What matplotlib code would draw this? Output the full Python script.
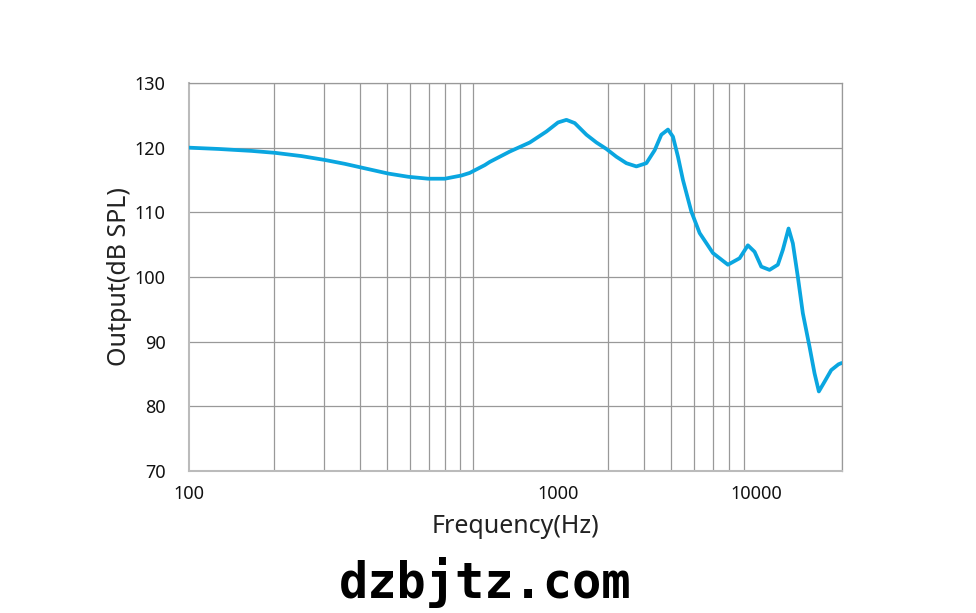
import matplotlib
matplotlib.use("Agg")
import matplotlib.pyplot as plt
from matplotlib.ticker import FixedLocator, NullFormatter

freq = [100, 127, 166, 201, 249, 301, 354, 417, 503, 592, 696, 797, 913,
        976, 1016, 1102, 1148, 1350, 1588, 1818, 1997, 2138, 2287, 2515, 2727,
        2957, 3206, 3477, 3771, 4089, 4374, 4617, 4873, 5074, 5285, 5503, 5891,
        6300, 7020, 7925, 8713, 9320, 9840, 10390, 11110, 11885, 12377, 12964,
        13423, 13979, 14555, 15370, 16006, 16576, 17356, 18323, 19440, 19950]
spl = [120.0, 119.8, 119.5, 119.2, 118.7, 118.1, 117.5, 116.8, 116.0, 115.5,
       115.2, 115.2, 115.7, 116.1, 116.5, 117.3, 117.8, 119.4, 120.8, 122.5,
       123.9, 124.3, 123.8, 122.0, 120.8, 119.8, 118.6, 117.6, 117.1, 117.6,
       119.6, 122.0, 122.8, 121.7, 118.6, 115.0, 110.1, 106.8, 103.7, 101.9,
       102.9, 104.9, 103.9, 101.6, 101.1, 101.9, 104.2, 107.5, 105.2, 100.0,
       94.4, 89.2, 85.1, 82.3, 83.8, 85.6, 86.5, 86.7]

x_tick_pos = [100, 2000, 10000]
x_tick_labels = ["100", "1000", "10000"]
y_ticks = [70, 80, 90, 100, 110, 120, 130]
grid_freqs = [100, 200, 300, 400, 500, 600, 700, 800, 900,
              1000, 2000, 3000, 4000, 5000, 6000, 7000, 8000, 9000,
              10000, 20000]

fig = plt.figure(figsize=(9.76, 6.13), dpi=100)
ax = fig.add_axes([189/976, 1-471/613, (842-189)/976, (471-83)/613])
ax.set_xscale("log")
ax.set_xlim(100, 20000)
ax.set_ylim(70, 130)

ax.plot(freq, spl, color="#0aa6e0", lw=2.7, solid_capstyle="round",
        solid_joinstyle="round", zorder=3)

ax.xaxis.set_minor_locator(FixedLocator(grid_freqs))
ax.xaxis.set_minor_formatter(NullFormatter())
ax.set_xticks(x_tick_pos)
ax.set_xticklabels(x_tick_labels)
ax.set_yticks(y_ticks)
ax.grid(True, which="minor", axis="x", color="#999999", lw=0.9)
ax.grid(True, which="major", axis="y", color="#999999", lw=0.9)
ax.tick_params(axis="both", which="both", length=0)
ax.tick_params(axis="x", pad=10, labelsize=13)
ax.tick_params(axis="y", pad=17, labelsize=13)
for lab in ax.get_xticklabels() + ax.get_yticklabels():
    lab.set_fontfamily("Noto Sans")
    lab.set_color("#111111")

for s in ["top", "right"]:
    ax.spines[s].set_color("#999999")
    ax.spines[s].set_linewidth(0.9)
for s in ["left", "bottom"]:
    ax.spines[s].set_color("#bbbbbb")
    ax.spines[s].set_linewidth(1.5)

ax.set_xlabel("Frequency(Hz)", fontsize=18, family="Noto Sans", color="#222222", labelpad=8)
ax.set_ylabel("Output(dB SPL)", fontsize=18, family="Noto Sans", color="#222222", labelpad=2)

fig.text(485/976, 1-582/613, "dzbjtz.com", ha="center", va="center",
         fontsize=35, family="DejaVu Sans Mono", weight="bold", color="black")

fig.savefig("out.png", dpi=100)
